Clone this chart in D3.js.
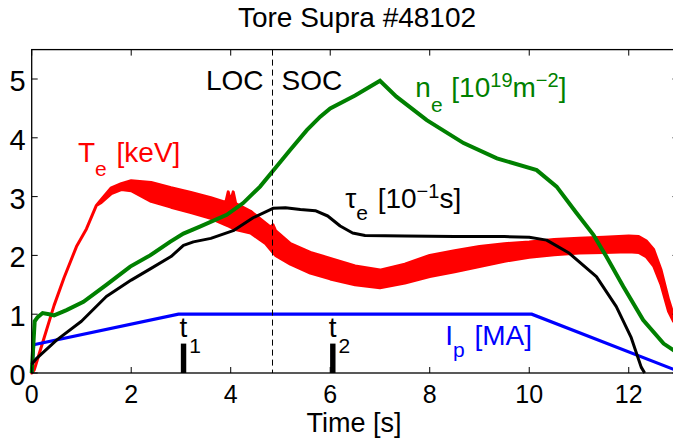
<!DOCTYPE html>
<html lang="en">
<head>
  <meta charset="UTF-8">
  <title>Tore Supra #48102</title>
  <script src="https://d3js.org/d3.v7.min.js"></script>
  <style>
    body { margin: 0; background: #fff; }
    svg text { font-family: "Liberation Sans", Arial, sans-serif; }
  </style>
</head>
<body>
  <div id="chart"></div>

  <script>
    // Plasma current I_p [MA]
    const ipTime = [0, 0.04, 2.95, 10.05, 13.0];
    const ipVal  = [0, 0.48, 1.0, 1.0, 0.03];

    // Energy confinement time tau_e [0.1 s]
    const tauTime = [0, 0.1, 0.5, 1.0, 1.5, 2.0, 2.4, 2.8, 3.05, 3.25, 3.6, 4.05, 4.45, 4.85, 5.1, 5.4, 5.7, 5.95, 6.2, 6.45, 6.7, 7.5, 8.5, 9.5, 10.0, 10.35, 10.8, 11.35, 11.75, 12.05, 12.25, 12.32];
    const tauVal  = [0.15, 0.25, 0.56, 0.88, 1.3, 1.58, 1.78, 1.98, 2.17, 2.23, 2.29, 2.42, 2.64, 2.8, 2.81, 2.78, 2.76, 2.67, 2.5, 2.38, 2.34, 2.33, 2.32, 2.32, 2.31, 2.26, 2.04, 1.64, 1.13, 0.6, 0.1, 0];

    // Line density n_e [1e19 m^-2]
    const neTime = [0, 0.06, 0.12, 0.22, 0.35, 0.45, 0.7, 1.04, 1.5, 1.98, 2.38, 2.78, 3.05, 3.38, 3.92, 4.25, 4.59, 4.86, 5.19, 5.53, 5.8, 6.0, 6.5, 7.0, 7.33, 7.94, 8.68, 9.35, 10.15, 10.55, 10.95, 11.29, 11.55, 11.89, 12.29, 12.7, 13.0];
    const neVal  = [0, 0.88, 0.95, 1.02, 1.0, 0.98, 1.07, 1.21, 1.5, 1.81, 2.0, 2.23, 2.37, 2.49, 2.69, 2.89, 3.17, 3.45, 3.79, 4.13, 4.36, 4.5, 4.72, 4.97, 4.7, 4.3, 3.91, 3.65, 3.45, 3.17, 2.72, 2.35, 1.98, 1.47, 0.9, 0.5, 0.33];

    // Electron temperature T_e [keV]: noisy signal, drawn as its lower / upper envelope
    const teTime = [0, 0.05, 0.25, 0.45, 0.65, 0.9, 1.1, 1.3, 1.4, 1.6, 1.8, 2.0, 2.4, 2.8, 3.2, 3.6, 3.9, 3.95, 4.0, 4.05, 4.1, 4.4, 4.7, 4.8, 4.85, 4.9, 5.2, 5.6, 6.0, 6.5, 7.0, 7.5, 8.0, 8.5, 9.0, 9.5, 10.0, 10.5, 11.0, 11.5, 12.0, 12.2, 12.35, 12.5, 12.65, 12.8, 12.9];
    const teLow  = [0, 0.05, 0.6, 1.15, 1.62, 2.15, 2.45, 2.85, 2.9, 3.05, 3.12, 3.1, 2.92, 2.82, 2.73, 2.63, 2.52, 2.5, 2.48, 2.46, 2.44, 2.38, 2.2, 2.1, 2.05, 2.0, 1.85, 1.7, 1.6, 1.5, 1.45, 1.53, 1.64, 1.72, 1.81, 1.9, 1.97, 2.01, 2.04, 2.05, 2.06, 2.05, 1.98, 1.82, 1.5, 1.05, 0.88];
    const teHigh = [0, 0.05, 0.6, 1.15, 1.62, 2.15, 2.45, 2.85, 2.95, 3.15, 3.22, 3.27, 3.24, 3.15, 3.07, 2.98, 2.9, 3.08, 2.92, 3.08, 2.88, 2.75, 2.55, 2.48, 2.52, 2.42, 2.2, 2.05, 1.95, 1.82, 1.75, 1.85, 2.0, 2.08, 2.15, 2.2, 2.23, 2.27, 2.29, 2.31, 2.33, 2.32, 2.25, 2.1, 1.75, 1.25, 0.98];

    // Time markers t1 / t2 and LOC/SOC boundary
    const markerTime = [3.05, 6.05];
    const markerName = ["1", "2"];
    const markerHeight = 0.5;
    const transitionTime = 4.84;

    const xTicks = [0, 2, 4, 6, 8, 10, 12];
    const yTicks = [0, 1, 2, 3, 4, 5];

    const W = 673, H = 438;
    const margin = {top: 49.6, right: -5.5, bottom: 65, left: 31.7};

    const svg = d3.select("#chart").append("svg")
      .attr("width", W)
      .attr("height", H);

    const x = d3.scaleLinear().domain([0, 13]).range([margin.left, W - margin.right]);
    const y = d3.scaleLinear().domain([0, 5.5]).range([H - margin.bottom, margin.top]);

    const zip = (ts, vs) => ts.map((t, i) => [t, vs[i]]);
    const line = d3.line().x(d => x(d[0])).y(d => y(d[1]));

    const plot = svg.append("g");

    // T_e band
    const teArea = d3.area()
      .x((d, i) => x(teTime[i]))
      .y0((d, i) => y(teLow[i]))
      .y1((d, i) => y(teHigh[i]));
    plot.append("path")
      .attr("d", teArea(teTime))
      .attr("fill", "#ff0000")
      .attr("stroke", "#ff0000")
      .attr("stroke-width", 3)
      .attr("stroke-linejoin", "round");

    plot.append("path")
      .attr("d", line(zip(ipTime, ipVal)))
      .attr("fill", "none")
      .attr("stroke", "#0000ff")
      .attr("stroke-width", 3.2);

    plot.append("path")
      .attr("d", line(zip(neTime, neVal)))
      .attr("fill", "none")
      .attr("stroke", "#008000")
      .attr("stroke-width", 4);

    plot.append("path")
      .attr("d", line(zip(tauTime, tauVal)))
      .attr("fill", "none")
      .attr("stroke", "#000")
      .attr("stroke-width", 3)
      .attr("stroke-linejoin", "round");

    // LOC / SOC boundary
    svg.append("line")
      .attr("x1", x(transitionTime)).attr("x2", x(transitionTime))
      .attr("y1", y(5.5)).attr("y2", y(0))
      .attr("stroke", "#000")
      .attr("stroke-width", 1)
      .attr("stroke-dasharray", "6,4");

    // t1, t2 bars
    svg.append("g").selectAll("rect")
      .data(markerTime)
      .join("rect")
      .attr("x", d => x(d) - 2.6)
      .attr("y", y(markerHeight))
      .attr("width", 5.4)
      .attr("height", y(0) - y(markerHeight))
      .attr("fill", "#000");

    const markerLabels = svg.append("g").selectAll("text")
      .data(markerTime)
      .join("text")
      .attr("x", d => x(d) - 4)
      .attr("y", y(0.61))
      .attr("font-size", 28)
      .attr("fill", "#000");
    markerLabels.append("tspan").text("t");
    markerLabels.append("tspan")
      .attr("dx", 2)
      .attr("dy", 16)
      .attr("font-size", 21)
      .text((d, i) => markerName[i]);

    // axes box
    const x0 = x(0), x1 = x(13), y0 = y(0), y1 = y(5.5);
    svg.append("rect")
      .attr("x", x0).attr("y", y1)
      .attr("width", x1 - x0).attr("height", y0 - y1)
      .attr("fill", "none")
      .attr("stroke", "#000")
      .attr("stroke-width", 1.3);

    const tickLen = 6;
    const ticks = svg.append("g").attr("stroke", "#000").attr("stroke-width", 1);
    xTicks.forEach(t => {
      ticks.append("line").attr("x1", x(t)).attr("x2", x(t)).attr("y1", y0).attr("y2", y0 - tickLen);
      ticks.append("line").attr("x1", x(t)).attr("x2", x(t)).attr("y1", y1).attr("y2", y1 + tickLen);
    });
    yTicks.forEach(v => {
      ticks.append("line").attr("x1", x0).attr("x2", x0 + tickLen).attr("y1", y(v)).attr("y2", y(v));
      ticks.append("line").attr("x1", x1).attr("x2", x1 - tickLen).attr("y1", y(v)).attr("y2", y(v));
    });

    svg.append("g").selectAll("text")
      .data(xTicks)
      .join("text")
      .attr("x", d => x(d))
      .attr("y", y0 + 29.5)
      .attr("text-anchor", "middle")
      .attr("font-size", 25)
      .text(d => d);

    svg.append("g").selectAll("text")
      .data(yTicks)
      .join("text")
      .attr("x", x0 - 6)
      .attr("y", d => y(d) + 12)
      .attr("text-anchor", "end")
      .attr("font-size", 29)
      .text(d => d);

    // title and axis label
    svg.append("text")
      .attr("x", 357).attr("y", 27)
      .attr("text-anchor", "middle")
      .attr("font-size", 28)
      .text("Tore Supra #48102");

    svg.append("text")
      .attr("x", 354).attr("y", 432)
      .attr("text-anchor", "middle")
      .attr("font-size", 27)
      .text("Time [s]");

    svg.append("text")
      .attr("x", x(transitionTime) - 9).attr("y", y(4.81))
      .attr("text-anchor", "end")
      .attr("font-size", 28)
      .text("LOC");
    svg.append("text")
      .attr("x", x(transitionTime) + 9).attr("y", y(4.81))
      .attr("font-size", 28)
      .text("SOC");

    // curve labels
    function label(t, v, color, parts) {
      const txt = svg.append("text")
        .attr("x", x(t)).attr("y", y(v))
        .attr("font-size", 28)
        .attr("fill", color);
      let shift = 0;
      parts.forEach(p => {
        const ts = txt.append("tspan").text(p.s);
        const target = p.dy || 0;
        ts.attr("dy", target - shift);
        shift = target;
        if (p.size) ts.attr("font-size", p.size);
        if (p.dx) ts.attr("dx", p.dx);
      });
    }

    label(0.93, 3.58, "#ff0000", [{s: "T"}, {s: "e", dy: 14, size: 21}, {s: " [keV]", dx: 2}]);
    label(7.71, 4.69, "#008000", [{s: "n"}, {s: "e", dy: 15, size: 21}, {s: " [10", dx: 1}, {s: "19", dy: -10, size: 20}, {s: "m"}, {s: "\u22122", dy: -10, size: 20}, {s: "]"}]);
    label(6.3, 2.81, "#000", [{s: "\u03c4"}, {s: "e", dy: 12, size: 21}, {s: " [10", dx: 2}, {s: "\u22121", dy: -10, size: 20}, {s: "s]"}]);
    label(8.31, 0.48, "#0000ff", [{s: "I"}, {s: "p", dy: 12, size: 21}, {s: " [MA]", dx: 2}]);
  </script>
</body>
</html>
